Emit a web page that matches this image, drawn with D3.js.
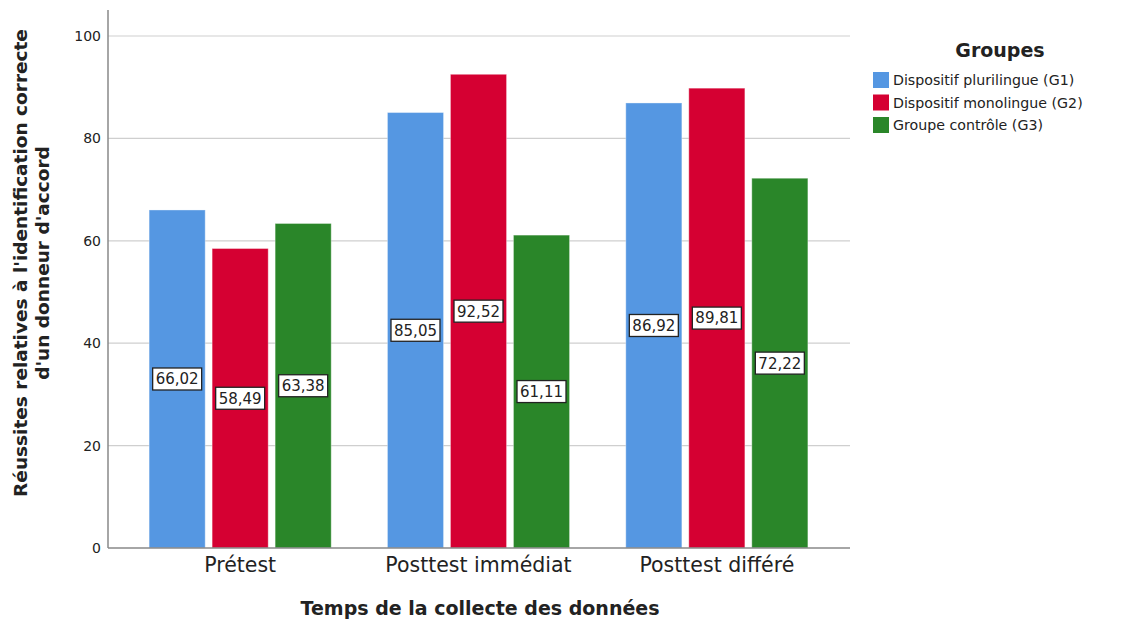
<!DOCTYPE html>
<html><head><meta charset="utf-8">
<script src="https://d3js.org/d3.v7.min.js"></script>
<style>body{margin:0;background:#fff}svg{display:block}text{font-family:"DejaVu Sans",sans-serif;fill:#222}</style>
</head><body><svg id="c" width="1130" height="621"></svg>
<script>
const categories = ["Prétest", "Posttest immédiat", "Posttest différé"];
const groups = ["Dispositif plurilingue (G1)", "Dispositif monolingue (G2)", "Groupe contrôle (G3)"];
const g1 = [66.02, 85.05, 86.92];
const g2 = [58.49, 92.52, 89.81];
const g3 = [63.38, 61.11, 72.22];
const yTicks = [0, 20, 40, 60, 80, 100];
const colors = ["#5597E2", "#D50032", "#2A8629"];
const series = [g1, g2, g3];

const svg = d3.select("#c");
const left = 108, right = 850, bottom = 548;
const y = d3.scaleLinear().domain([0, 100]).range([bottom, 36]);
const x0 = d3.scaleBand().domain(categories).range([121, 836]).paddingInner(0.236).paddingOuter(0.118);
const x1 = d3.scaleBand().domain(groups).range([0, x0.bandwidth()]).paddingInner(0.11);

// gridlines
svg.append("g").selectAll("line").data(yTicks.filter(d => d > 0)).join("line")
  .attr("x1", left).attr("x2", right).attr("y1", d => y(d)).attr("y2", d => y(d))
  .attr("stroke", "#cfcfcf").attr("stroke-width", 1.2);

// y axis
const ya = svg.append("g").attr("transform", `translate(${left},0)`)
  .call(d3.axisLeft(y).tickValues(yTicks).tickSize(0).tickPadding(7));
ya.select(".domain").remove();
ya.selectAll("text").attr("font-size", 14).attr("font-family", "DejaVu Sans").attr("fill", "#333");
svg.append("line").attr("x1", left).attr("x2", left).attr("y1", 10).attr("y2", bottom).attr("stroke", "#888").attr("stroke-width", 1.5);

// bars
const rows = categories.map((c, i) => ({ c, vals: series.map((s, j) => ({ g: groups[j], v: s[i], col: colors[j] })) }));
const gg = svg.append("g").selectAll("g").data(rows).join("g").attr("transform", d => `translate(${x0(d.c)},0)`);
gg.selectAll("rect").data(d => d.vals).join("rect")
  .attr("x", d => x1(d.g)).attr("width", x1.bandwidth())
  .attr("y", d => y(d.v)).attr("height", d => bottom - y(d.v))
  .attr("fill", d => d.col).attr("stroke", "#ffffff").attr("stroke-opacity", 0.35).attr("stroke-width", 1);

// labels
const fmt = v => v.toFixed(2).replace(".", ",");
const lab = gg.selectAll("g.lab").data(d => d.vals).join("g").attr("class", "lab")
  .attr("transform", d => `translate(${x1(d.g) + x1.bandwidth() / 2},${y(d.v / 2)})`);
lab.append("rect").attr("x", -24.5).attr("y", -11).attr("width", 49).attr("height", 22)
  .attr("fill", "#fff").attr("stroke", "#222").attr("stroke-width", 1.3);
lab.append("text").attr("text-anchor", "middle").attr("dy", "0.36em").attr("font-size", 15).text(d => fmt(d.v));

// x axis
svg.append("line").attr("x1", left).attr("x2", right).attr("y1", bottom).attr("y2", bottom).attr("stroke", "#888").attr("stroke-width", 1.5);
const xa = svg.append("g").attr("transform", `translate(0,${bottom})`)
  .call(d3.axisBottom(x0).tickSize(0).tickPadding(8));
xa.select(".domain").remove();
xa.selectAll("text").attr("font-size", 20.5).attr("font-family", "DejaVu Sans").attr("fill", "#222").attr("dy", "0.8em");

// axis titles
svg.append("text").attr("x", 480).attr("y", 615).attr("text-anchor", "middle").attr("font-size", 19).attr("font-weight", "bold").text("Temps de la collecte des données");
const yt = svg.append("text").attr("transform", "translate(0,263) rotate(-90)").attr("text-anchor", "middle").attr("font-size", 18.5).attr("font-weight", "bold");
yt.append("tspan").attr("x", 0).attr("y", 27).text("Réussites relatives à l'identification correcte");
yt.append("tspan").attr("x", 0).attr("y", 49).text("d'un donneur d'accord");

// legend
svg.append("text").attr("x", 1000).attr("y", 57).attr("text-anchor", "middle").attr("font-size", 19).attr("font-weight", "bold").text("Groupes");
const lg = svg.append("g").selectAll("g").data(groups).join("g").attr("transform", (d, i) => `translate(873,${72 + i * 22.5})`);
lg.append("rect").attr("width", 16).attr("height", 16).attr("fill", (d, i) => colors[i]);
lg.append("text").attr("x", 20).attr("y", 8).attr("dy", "0.36em").attr("font-size", 14.2).text(d => d);
</script></body></html>
